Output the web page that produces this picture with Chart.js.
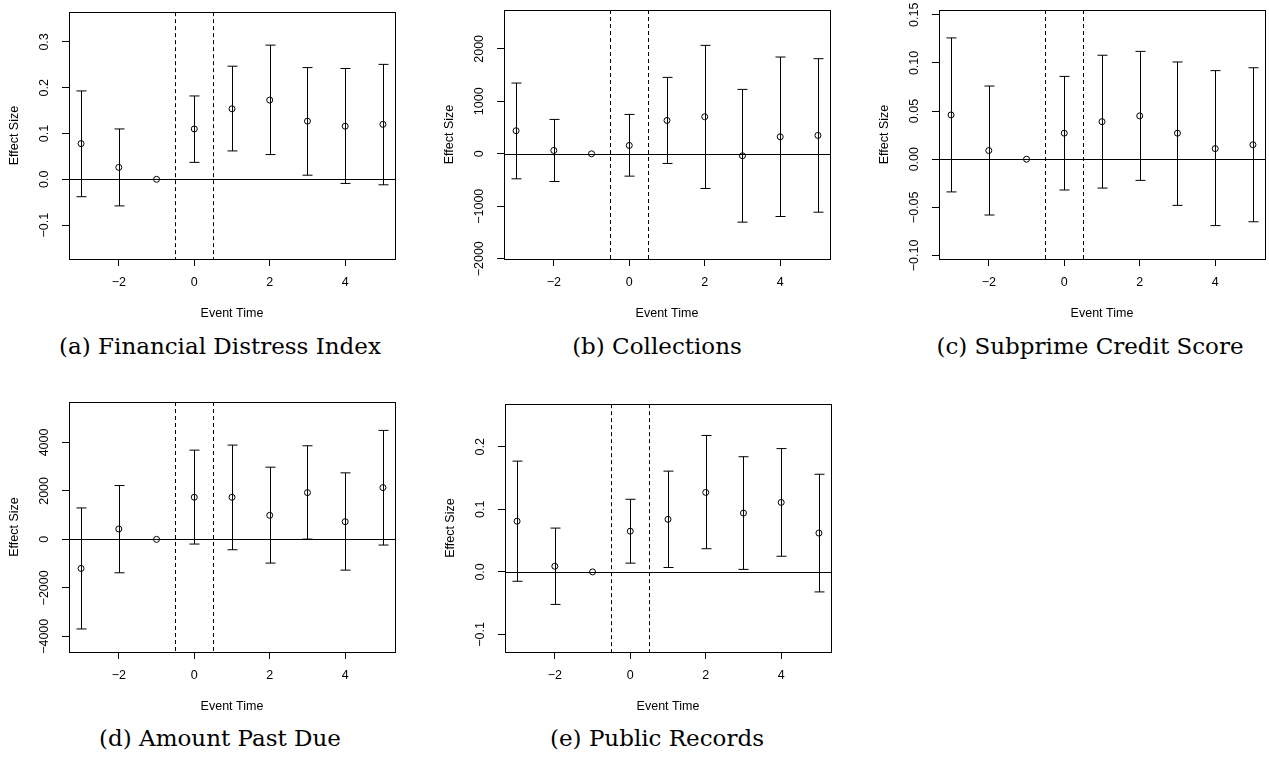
<!DOCTYPE html>
<html>
<head>
<meta charset="utf-8">
<script src="https://cdn.jsdelivr.net/npm/chart.js@4.4.1/dist/chart.umd.min.js"></script>
<style>
  html, body { margin: 0; padding: 0; background: #fff; overflow: hidden; }
  body { width: 1269px; height: 757px; position: relative; }
  canvas { position: absolute; }
  .cap {
    position: absolute; width: 400px; text-align: center; white-space: nowrap;
    font-family: 'DejaVu Serif', serif; font-size: 23px; line-height: 28px; color: #000;
  }
</style>
</head>
<body>
<div class="cap" style="left:20px;top:332px">(a) Financial Distress Index</div>
<div class="cap" style="left:457px;top:332px">(b) Collections</div>
<div class="cap" style="left:890px;top:332px">(c) Subprime Credit Score</div>
<div class="cap" style="left:20px;top:724px">(d) Amount Past Due</div>
<div class="cap" style="left:457px;top:724px">(e) Public Records</div>
<script>
const eventTime = [-3, -2, -1, 0, 1, 2, 3, 4, 5];
const xTicks = [-2, 0, 2, 4];

// (a) financial distress index
const distressEst = [0.078, 0.026, 0, 0.110, 0.154, 0.173, 0.127, 0.116, 0.120];
const distressLo  = [-0.038, -0.058, null, 0.037, 0.062, 0.054, 0.009, -0.009, -0.012];
const distressHi  = [0.193, 0.110, null, 0.182, 0.247, 0.293, 0.244, 0.242, 0.251];
const distressTicks  = [-0.1, 0, 0.1, 0.2, 0.3];
const distressLabels = ['\u22120.1', '0.0', '0.1', '0.2', '0.3'];

// (b) collections
const collEst = [439, 64, 0, 159, 636, 706, -38, 324, 350];
const collLo  = [-477, -528, null, -426, -184, -661, -1303, -1195, -1113];
const collHi  = [1348, 655, null, 750, 1456, 2066, 1227, 1844, 1812];
const collTicks  = [-2000, -1000, 0, 1000, 2000];
const collLabels = ['\u22122000', '\u22121000', '0', '1000', '2000'];

// (c) subprime credit score
const subEst = [0.046, 0.009, 0, 0.027, 0.039, 0.045, 0.027, 0.011, 0.015];
const subLo  = [-0.034, -0.058, null, -0.032, -0.030, -0.022, -0.048, -0.069, -0.065];
const subHi  = [0.126, 0.076, null, 0.086, 0.108, 0.112, 0.101, 0.092, 0.095];
const subTicks  = [-0.1, -0.05, 0, 0.05, 0.1, 0.15];
const subLabels = ['\u22120.10', '\u22120.05', '0.00', '0.05', '0.10', '0.15'];

// (d) amount past due
const dueEst = [-1200, 428, 0, 1738, 1738, 993, 1931, 731, 2138];
const dueLo  = [-3697, -1379, null, -193, -428, -979, 10, -1269, -234];
const dueHi  = [1297, 2221, null, 3683, 3890, 2979, 3862, 2745, 4497];
const dueTicks  = [-4000, -2000, 0, 2000, 4000];
const dueLabels = ['\u22124000', '\u22122000', '0', '2000', '4000'];

// (e) public records
const pubEst = [0.081, 0.009, 0, 0.065, 0.084, 0.127, 0.094, 0.111, 0.062];
const pubLo  = [-0.015, -0.052, null, 0.014, 0.007, 0.037, 0.004, 0.025, -0.032];
const pubHi  = [0.177, 0.070, null, 0.116, 0.161, 0.218, 0.184, 0.197, 0.156];
const pubTicks  = [-0.1, 0, 0.1, 0.2];
const pubLabels = ['\u22120.1', '0.0', '0.1', '0.2'];

const zeroLine = 0;
const eventWindow = [-0.5, 0.5];

const font = { family: "'Liberation Sans', Arial, sans-serif", size: 12.5 };
const fontCss = "12.5px 'Liberation Sans', Arial, sans-serif";

const panels = [
  { left: 0,   top: 0,   h: 324, ymin: -0.174, ymax: 0.365, est: distressEst, lo: distressLo, hi: distressHi, ticks: distressTicks, labels: distressLabels },
  { left: 435, top: 0,   h: 324, ymin: -2005,  ymax: 2740,  est: collEst, lo: collLo, hi: collHi, ticks: collTicks, labels: collLabels },
  { left: 870, top: 0,   h: 324, ymin: -0.1037, ymax: 0.155, est: subEst, lo: subLo, hi: subHi, ticks: subTicks, labels: subLabels },
  { left: 0,   top: 392, h: 325, ymin: -4648,  ymax: 5669,  est: dueEst, lo: dueLo, hi: dueHi, ticks: dueTicks, labels: dueLabels },
  { left: 436, top: 392, h: 325, ymin: -0.128, ymax: 0.268, est: pubEst, lo: pubLo, hi: pubHi, ticks: pubTicks, labels: pubLabels }
];

// box, zero line and dashed event window
const frame = {
  id: 'frame',
  beforeDatasetsDraw(chart) {
    const { ctx, chartArea: a, scales: { x, y } } = chart;
    ctx.save();
    ctx.strokeStyle = '#000';
    ctx.lineWidth = 1;
    const y0 = Math.round(y.getPixelForValue(zeroLine)) + 0.5;
    ctx.beginPath();
    ctx.moveTo(a.left, y0);
    ctx.lineTo(a.right, y0);
    ctx.stroke();
    ctx.setLineDash([4, 3]);
    eventWindow.forEach(v => {
      const px = Math.round(x.getPixelForValue(v)) + 0.5;
      ctx.beginPath();
      ctx.moveTo(px, a.top);
      ctx.lineTo(px, a.bottom);
      ctx.stroke();
    });
    ctx.setLineDash([]);
    const l = Math.round(a.left) + 0.5, t = Math.round(a.top) + 0.5;
    const r = Math.round(a.right) + 0.5, b = Math.round(a.bottom) + 0.5;
    ctx.strokeRect(l, t, r - l, b - t);
    ctx.restore();
  }
};

// confidence intervals with flat caps
const errorBars = {
  id: 'errorBars',
  afterDatasetsDraw(chart) {
    const { ctx, scales: { x, y } } = chart;
    const ds = chart.data.datasets[0];
    ctx.save();
    ctx.strokeStyle = '#000';
    ctx.lineWidth = 1;
    ds.data.forEach((pt, i) => {
      if (ds.lower[i] == null) return;
      const px = Math.round(x.getPixelForValue(pt.x)) + 0.5;
      const lo = y.getPixelForValue(ds.lower[i]);
      const hi = y.getPixelForValue(ds.upper[i]);
      ctx.beginPath();
      ctx.moveTo(px, lo); ctx.lineTo(px, hi);
      ctx.moveTo(px - 5, lo); ctx.lineTo(px + 5, lo);
      ctx.moveTo(px - 5, hi); ctx.lineTo(px + 5, hi);
      ctx.stroke();
    });
    ctx.restore();
  }
};

function minus(v) {
  return v < 0 ? '\u2212' + Math.abs(v) : String(v);
}

panels.forEach(p => {
  const cv = document.createElement('canvas');
  cv.width = 399;
  cv.height = p.h;
  cv.style.left = p.left + 'px';
  cv.style.top = p.top + 'px';
  document.body.appendChild(cv);

  const mctx = cv.getContext('2d');
  mctx.font = fontCss;
  const widest = Math.max(...p.labels.map(s => mctx.measureText(s).width));

  new Chart(cv, {
    type: 'scatter',
    data: {
      datasets: [{
        data: eventTime.map((t, i) => ({ x: t, y: p.est[i] })),
        lower: p.lo,
        upper: p.hi,
        pointStyle: 'circle',
        pointRadius: 3,
        pointHoverRadius: 3,
        borderWidth: 1,
        borderColor: '#000',
        backgroundColor: 'rgba(0,0,0,0)'
      }]
    },
    options: {
      responsive: false,
      animation: false,
      events: [],
      layout: { padding: { top: 10, right: 3, left: 0, bottom: 0 } },
      plugins: { legend: { display: false }, tooltip: { enabled: false } },
      scales: {
        x: {
          type: 'linear',
          min: -3.32,
          max: 5.32,
          afterBuildTicks: s => { s.ticks = xTicks.map(v => ({ value: v })); },
          afterFit: s => { s.height = 65; },
          ticks: { autoSkip: false, padding: 9, color: '#000', font: font, callback: v => minus(v) },
          grid: { drawOnChartArea: false, drawTicks: true, tickLength: 7, color: '#000' },
          border: { display: false },
          title: { display: true, text: 'Event Time', color: '#000', font: font, padding: { top: 0, bottom: 3 } }
        },
        y: {
          type: 'linear',
          min: p.ymin,
          max: p.ymax,
          afterBuildTicks: s => { s.ticks = p.ticks.map(v => ({ value: v })); },
          afterFit: s => { s.width = 69; },
          ticks: {
            autoSkip: false, minRotation: 90, maxRotation: 90, crossAlign: 'center',
            padding: 17 - widest / 2, color: '#000', font: font,
            callback: (v, i) => p.labels[i]
          },
          grid: { drawOnChartArea: false, drawTicks: true, tickLength: 7, color: '#000' },
          border: { display: false },
          title: { display: true, text: 'Effect Size', color: '#000', font: font, padding: { top: 7.5, bottom: 0 } }
        }
      }
    },
    plugins: [frame, errorBars]
  });
});
</script>
</body>
</html>
